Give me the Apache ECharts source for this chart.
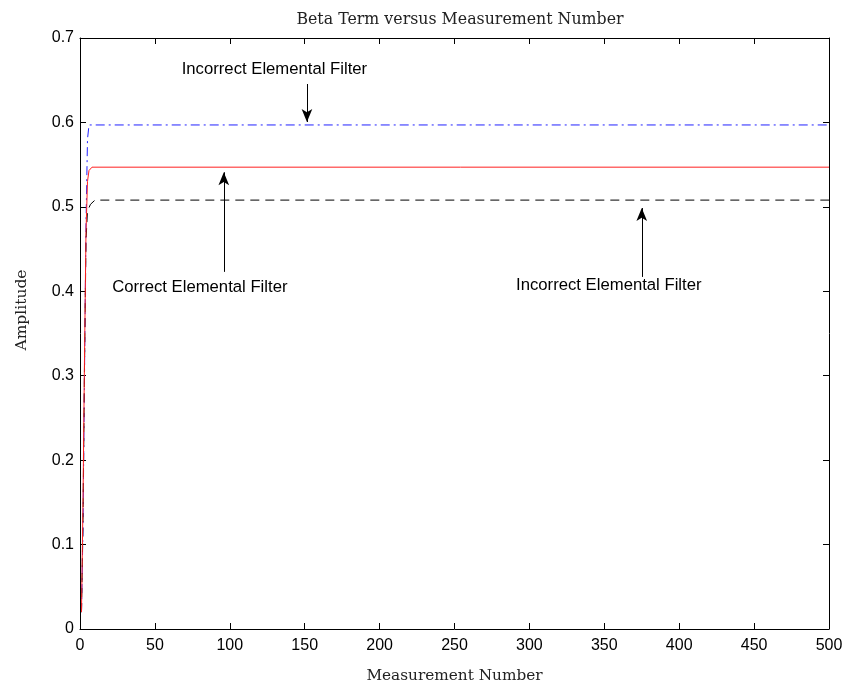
<!DOCTYPE html>
<html><head><meta charset="utf-8">
<script src="https://cdn.jsdelivr.net/npm/echarts@6/dist/echarts.min.js"></script>
<style>html,body{margin:0;padding:0;background:#fff}#c{width:846px;height:690px}</style>
</head><body><div id="c"></div>
<script>
const title = 'Beta Term versus Measurement Number';
const xName = 'Measurement Number';
const yName = 'Amplitude';
const blueX = [1, 2, 3, 4, 5, 6, 500];
const blueY = [0.02, 0.12, 0.30, 0.48, 0.58, 0.597, 0.597];
const redX = [1, 2, 3, 4, 5, 6, 8, 500];
const redY = [0.02, 0.15, 0.32, 0.47, 0.53, 0.543, 0.547, 0.547];
const blackX = [1, 2, 3, 4, 5, 7, 10, 500];
const blackY = [0.02, 0.13, 0.31, 0.46, 0.495, 0.503, 0.508, 0.508];
const annText = ['Incorrect Elemental Filter', 'Correct Elemental Filter', 'Incorrect Elemental Filter'];
const annTextX = [129.8, 80, 353];
const annTextY = [0.663, 0.405, 0.407];
const arrowX = [151.5, 96, 375];
const arrowY0 = [0.6455, 0.423, 0.417];
const arrowY1 = [0.6005, 0.541, 0.4986];

const pairs = (xs, ys) => xs.map((x, i) => [x, ys[i]]);
const sans = 'Liberation Sans';
const serif = 'DejaVu Serif';

const axisCommon = () => ({
  axisLine: {onZero: false, lineStyle: {color: '#000', width: 1}},
  axisTick: {inside: true, length: 6, lineStyle: {color: '#000'}},
  splitLine: {show: false}
});

const chart = echarts.init(document.getElementById('c'));
chart.setOption({
  animation: false,
  backgroundColor: '#fff',
  title: {text: title, left: 455, top: 7, textAlign: 'center',
    textStyle: {fontFamily: serif, fontSize: 15.8, fontWeight: 'normal', color: '#222'}},
  grid: {left: 80, right: 17, top: 38, bottom: 61},
  graphic: [{type: 'text', x: 22, y: 310, rotation: Math.PI / 2,
    style: {text: yName, fontFamily: serif, fontSize: 15.5, fill: '#222',
      textAlign: 'center', textVerticalAlign: 'middle'}}],
  xAxis: [
    Object.assign({type: 'value', min: 0, max: 500, interval: 50, position: 'bottom',
      name: xName, nameLocation: 'middle', nameGap: 40,
      nameTextStyle: {fontFamily: serif, fontSize: 15.3, color: '#222'},
      axisLabel: {fontFamily: sans, fontSize: 16, color: '#000', margin: 9}}, axisCommon()),
    Object.assign({type: 'value', min: 0, max: 500, interval: 50, position: 'top',
      axisLabel: {show: false}}, axisCommon())
  ],
  yAxis: [
    Object.assign({type: 'value', min: 0, max: 0.7, interval: 0.1, position: 'left',
      axisLabel: {fontFamily: sans, fontSize: 16, color: '#000', margin: 6}}, axisCommon()),
    Object.assign({type: 'value', min: 0, max: 0.7, interval: 0.1, position: 'right',
      axisLabel: {show: false}}, axisCommon())
  ],
  series: [
    {type: 'line', data: pairs(blueX, blueY), showSymbol: false, symbol: 'none',
      lineStyle: {color: '#2222ff', width: 1, type: [9, 4, 2, 4]}},
    {type: 'line', data: pairs(blackX, blackY), showSymbol: false, symbol: 'none',
      lineStyle: {color: '#000', width: 1, type: [9, 6]}},
    {type: 'line', data: pairs(redX, redY), showSymbol: false, symbol: 'none',
      lineStyle: {color: '#ff2020', width: 1},
      markLine: {silent: true, symbol: ['none', 'arrow'], symbolSize: [8, 13],
        label: {show: false},
        lineStyle: {color: '#000', width: 1, type: 'solid'},
        data: arrowX.map((x, i) => [{coord: [x, arrowY0[i]]}, {coord: [x, arrowY1[i]]}])},
      markPoint: {silent: true, symbol: 'circle', symbolSize: 1,
        itemStyle: {color: 'rgba(0,0,0,0)'},
        label: {show: true, position: 'inside', fontFamily: sans, fontSize: 16.7, color: '#000',
          formatter: p => p.name},
        data: annText.map((t, i) => ({name: t, coord: [annTextX[i], annTextY[i]]}))}
    }
  ]
});
</script></body></html>
